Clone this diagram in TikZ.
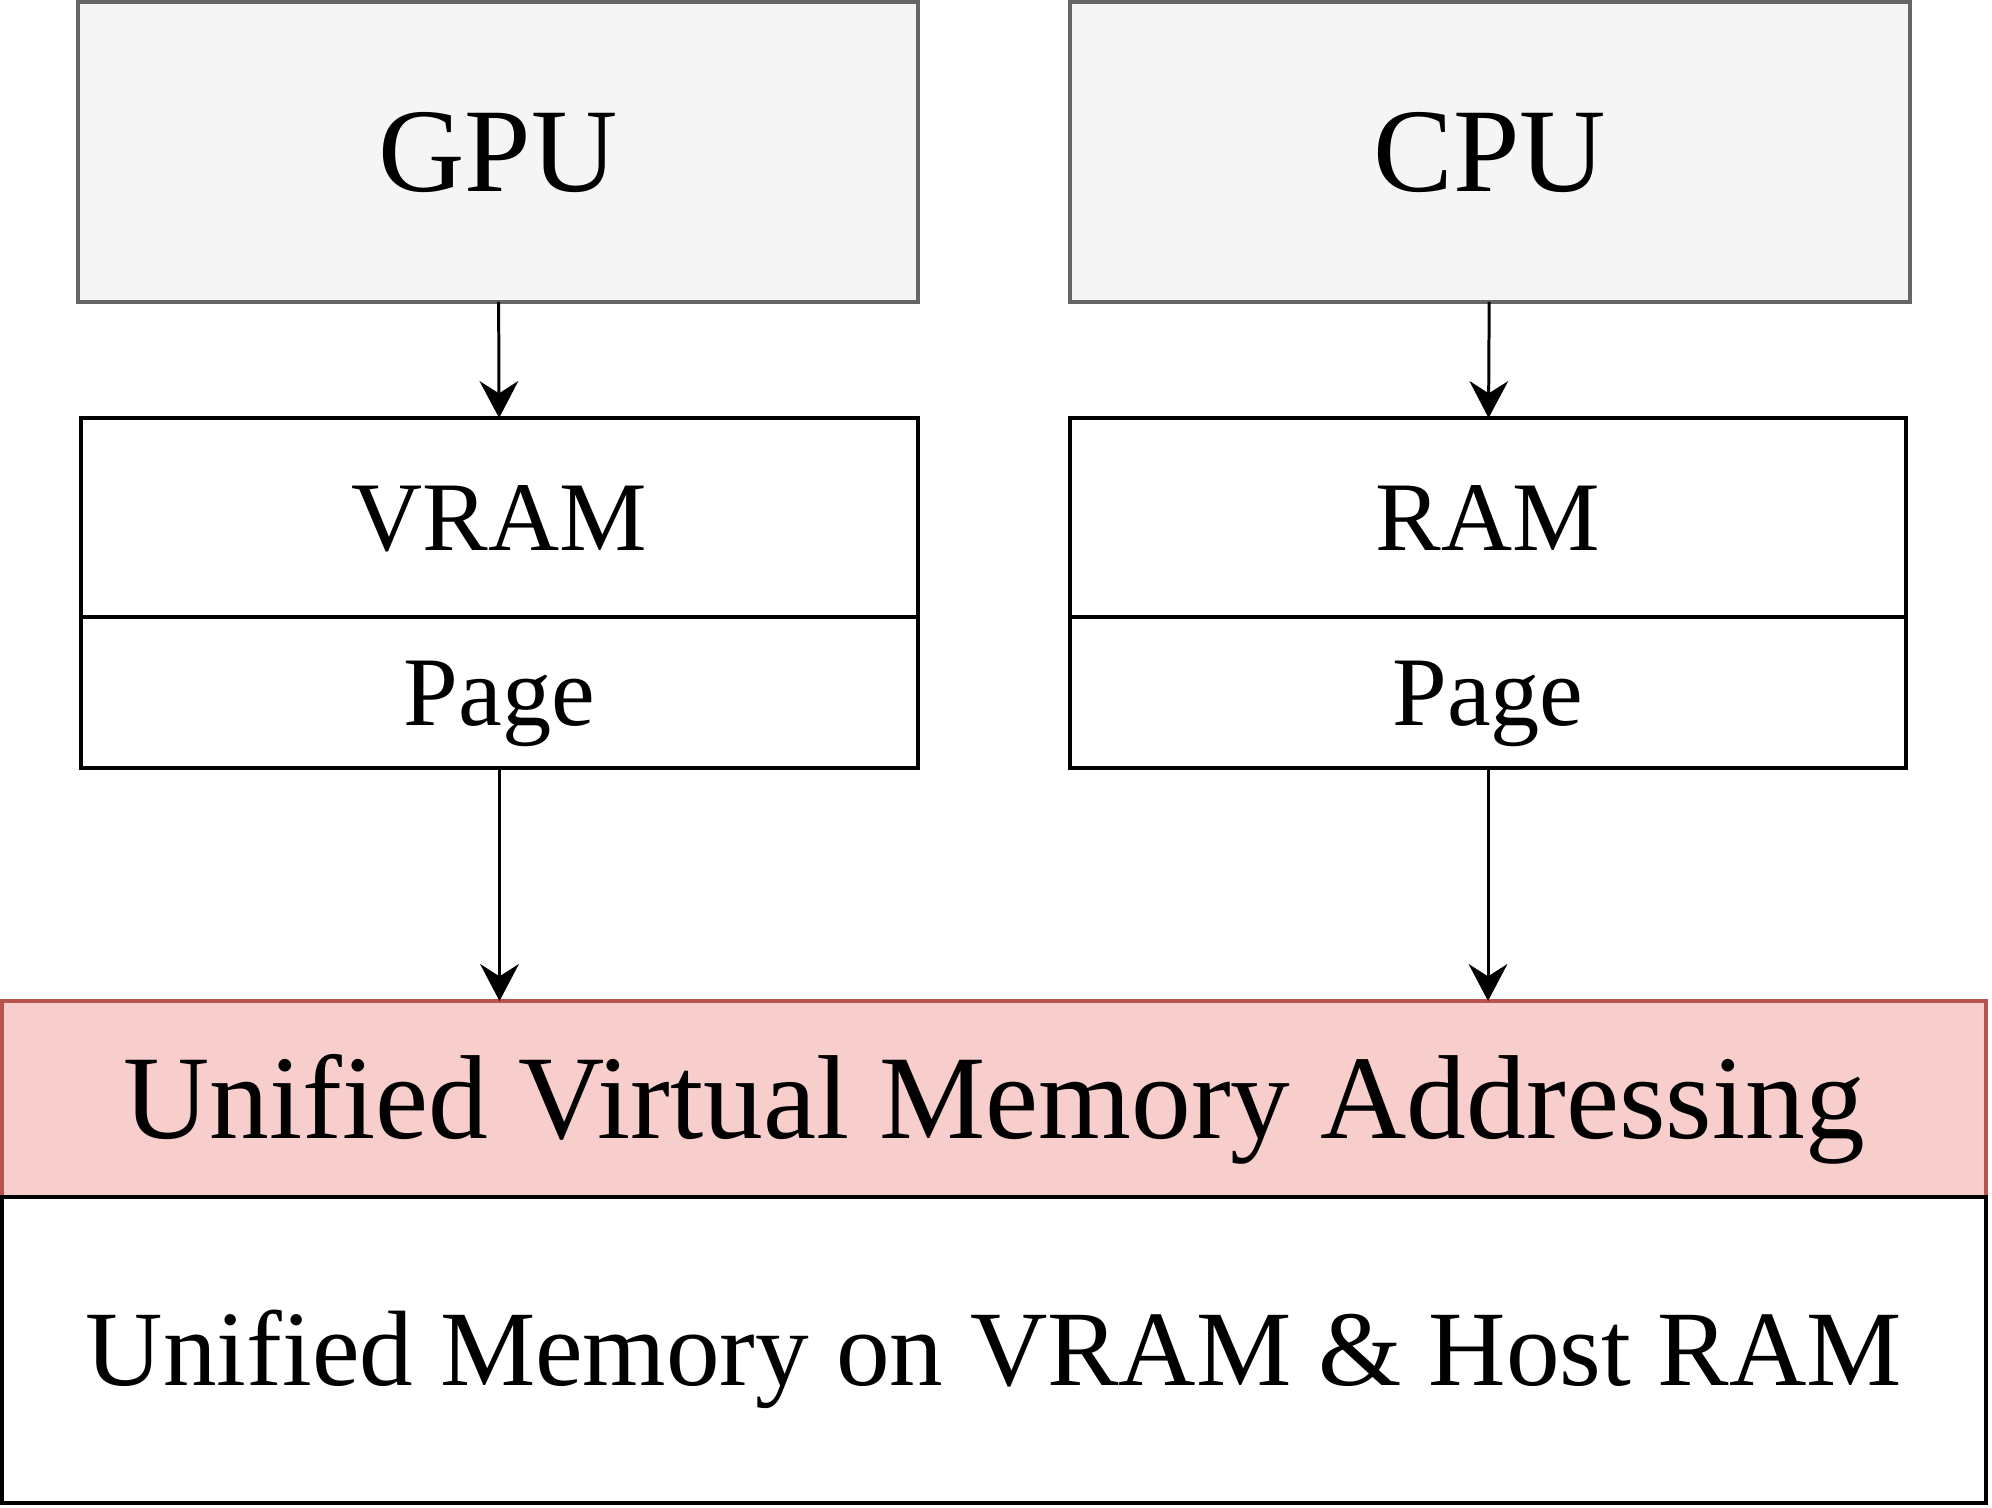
\documentclass[tikz,border=0pt]{standalone}
\usepackage{fontspec}
\setmainfont{Liberation Serif}
\usetikzlibrary{arrows.meta, positioning}
\definecolor{procfill}{HTML}{F5F5F5}
\definecolor{procline}{HTML}{666666}
\definecolor{uvmfill}{HTML}{F8CECC}
\definecolor{uvmline}{HTML}{B85450}

\begin{document}
\begin{tikzpicture}[
        node distance=0cm,
        proc/.style={draw=procline, fill=procfill, line width=1.1pt, outer sep=0pt,
                     minimum width=8.40cm, minimum height=3.00cm,
                     font=\fontsize{34}{40}\selectfont, text height=22.5pt, text depth=0pt},
        mem/.style={draw, line width=1.1pt, outer sep=0pt, minimum height=1.99cm,
                    font=\fontsize{28}{34}\selectfont, text height=18.5pt, text depth=0pt},
        page/.style={mem, minimum height=1.51cm},
        uvm/.style={draw=uvmline, fill=uvmfill, line width=1.1pt, outer sep=0pt,
                    minimum width=19.84cm, minimum height=1.96cm,
                    font=\fontsize{34}{40}\selectfont, text height=22.5pt, text depth=0pt},
        host/.style={draw, fill=white, line width=1.1pt, outer sep=0pt,
                     minimum width=19.84cm, minimum height=3.06cm,
                     font=\fontsize{30.5}{36}\selectfont, text height=20.2pt, text depth=0pt},
        arrow/.style={-{Stealth[length=10.5pt, width=11pt, inset=3.5pt]}, line width=0.85pt}
      ]
        \useasboundingbox (0,0) rectangle (19.92,-15.08);
        \node[proc] (gpu) at (4.98,-1.52) {GPU};
        \node[proc] (cpu) at (14.90,-1.52) {CPU};
        \node[mem, minimum width=8.37cm] (vram) at (4.995,-5.175) {VRAM};
        \node[page, minimum width=8.37cm, below=of vram] (vpage) {Page};
        \node[mem, minimum width=8.36cm] (ram) at (14.88,-5.175) {RAM};
        \node[page, minimum width=8.36cm, below=of ram] (rpage) {Page};
        \node[uvm] (uvma) at (9.94,-10.99) {Unified Virtual Memory Addressing};
        \node[host, below=of uvma] (unified) {Unified Memory on VRAM \& Host RAM};
        \draw[arrow] (gpu) -- (vram);
        \draw[arrow] (cpu) -- (ram);
        \draw[arrow] (vpage) -- (vpage |- uvma.north);
        \draw[arrow] (rpage) -- (rpage |- uvma.north);
      \end{tikzpicture}
\end{document}
